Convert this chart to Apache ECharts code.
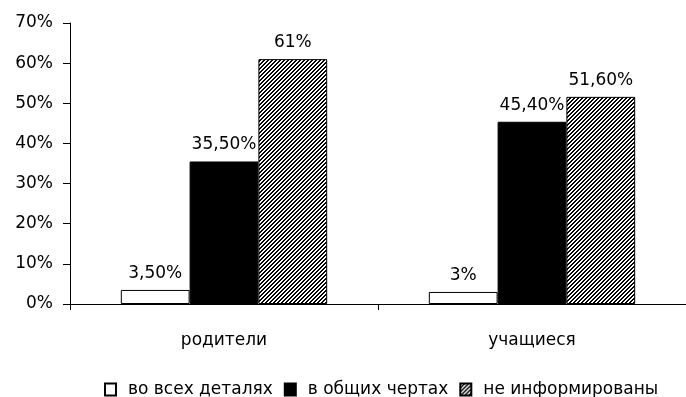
<!DOCTYPE html>
<html>
<head>
<meta charset="utf-8">
<script src="https://cdn.jsdelivr.net/npm/echarts@6/dist/echarts.min.js"></script>
<style>
  html, body { margin: 0; padding: 0; background: #fff; }
  #chart { width: 686px; height: 397px; }
</style>
</head>
<body>
<div id="chart"></div>
<script>
// Survey groups and answer shares, percent
const categories = ['родители', 'учащиеся'];
const seriesNames = ['во всех деталях', 'в общих чертах', 'не информированы'];
const inAllDetails = [3.5, 3];
const inGeneral = [35.5, 45.4];
const notInformed = [61, 51.6];
const yTicks = [0, 10, 20, 30, 40, 50, 60, 70];

// Diagonal hatch tile for the third series
function hatchPattern() {
  const c = document.createElement('canvas');
  c.width = 4; c.height = 4;
  const g = c.getContext('2d');
  g.fillStyle = '#fff';
  g.fillRect(0, 0, 4, 4);
  g.fillStyle = '#000';
  for (let i = 0; i < 4; i++) {
    g.fillRect(i, 3 - i, 1, 1);
    g.fillRect(i, (4 - i) % 4, 1, 1);
  }
  return { image: c, repeat: 'repeat' };
}

function fmt(v) {
  return (Number.isInteger(v) ? String(v) : v.toFixed(2).replace('.', ',')) + '%';
}

const font = 'DejaVu Sans';
const fs = 17;
const fills = ['#fff', '#000', hatchPattern()];
const values = [inAllDetails, inGeneral, notInformed];

const chart = echarts.init(document.getElementById('chart'), null, { renderer: 'canvas' });
chart.setOption({
  animation: false,
  textStyle: { fontFamily: font },
  grid: { left: 70, right: -4, top: 23, bottom: 93, containLabel: false },
  legend: {
    left: 99, top: 376,
    itemWidth: 11, itemHeight: 12, itemGap: 11,
    icon: 'rect',
    textStyle: { fontSize: fs, color: '#000', fontFamily: font, padding: [0, 0, 0, 7] },
    data: seriesNames
  },
  xAxis: {
    type: 'category',
    data: categories,
    axisLine: { lineStyle: { color: '#000', width: 1 } },
    axisTick: { show: true, length: 6, lineStyle: { color: '#000' } },
    axisLabel: { color: '#000', fontSize: fs, margin: 28, fontFamily: font }
  },
  yAxis: {
    type: 'value',
    min: yTicks[0], max: yTicks[yTicks.length - 1], interval: 10,
    splitLine: { show: false },
    axisLine: { show: true, lineStyle: { color: '#000', width: 1 } },
    axisTick: { show: true, length: 7, lineStyle: { color: '#000' } },
    axisLabel: { color: '#000', fontSize: fs, margin: 17, fontFamily: font, formatter: v => v + '%' }
  },
  series: seriesNames.map((name, i) => ({
    name,
    type: 'bar',
    data: values[i],
    barGap: '0%',
    barCategoryGap: '33%',
    itemStyle: { color: fills[i], borderColor: '#000', borderWidth: 1 },
    label: {
      show: true, position: 'top', distance: 8,
      color: '#000', fontSize: fs, fontFamily: font,
      formatter: p => fmt(p.value)
    }
  }))
});
</script>
</body>
</html>
